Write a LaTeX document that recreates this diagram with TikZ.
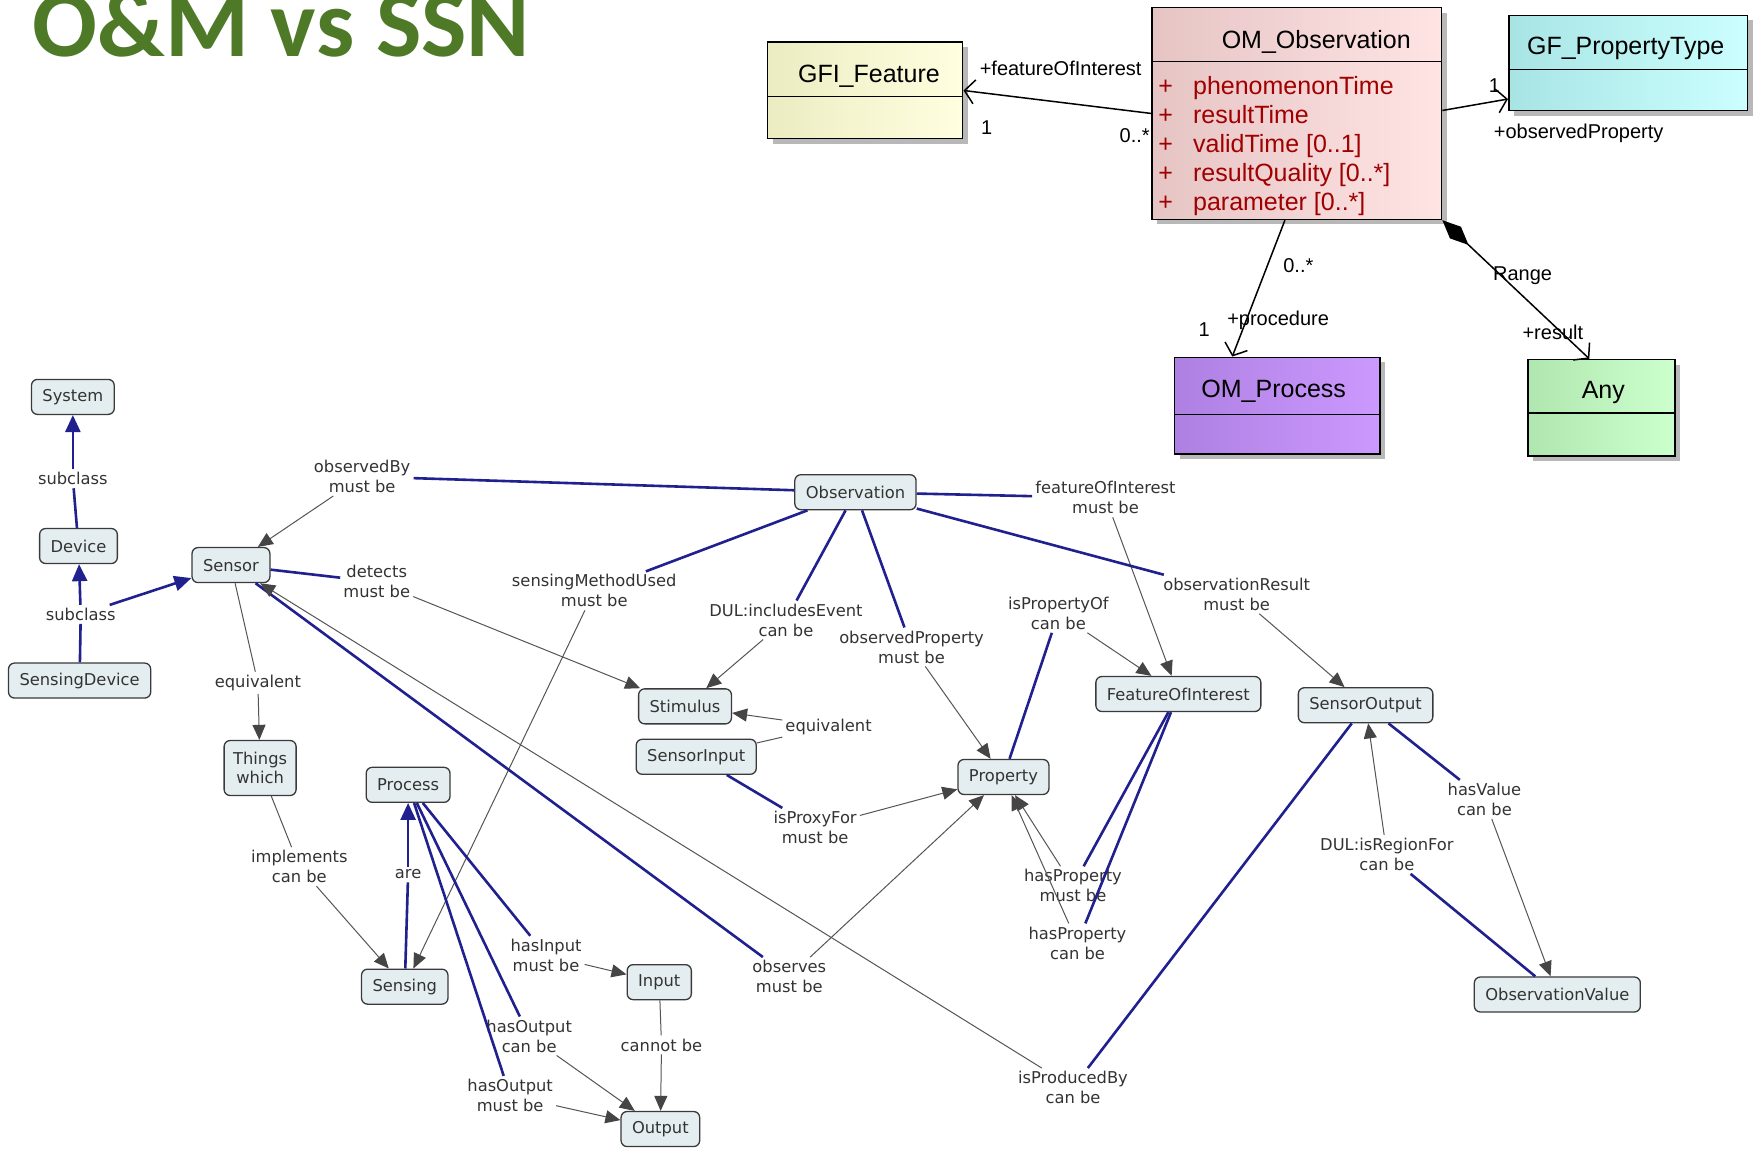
\documentclass[tikz,border=0pt]{standalone}
\usepackage{fontspec}
\usetikzlibrary{arrows.meta,shadows}
\newfontfamily\cmapfont{DejaVu Sans}
\newfontfamily\umlfont{Liberation Sans}
\newfontfamily\titlefont{Carlito}
\definecolor{linkblue}{HTML}{20208F}
\definecolor{linkgray}{HTML}{555555}
\definecolor{arrowgray}{HTML}{454545}
\definecolor{cfill}{HTML}{E4EEF1}
\definecolor{cborder}{HTML}{3A3A3A}
\definecolor{ctext}{HTML}{333333}
\definecolor{attrred}{HTML}{A00000}
\definecolor{titlegreen}{HTML}{4E7A28}
\definecolor{gfiL}{HTML}{ECECC2}
\definecolor{gfiR}{HTML}{FFFFE0}
\definecolor{obsL}{HTML}{E6C4C4}
\definecolor{obsR}{HTML}{FFE4E4}
\definecolor{gptL}{HTML}{A8E4E4}
\definecolor{gptR}{HTML}{CCFFFF}
\definecolor{procL}{HTML}{AE80E2}
\definecolor{procR}{HTML}{CC99FF}
\definecolor{anyL}{HTML}{B0E6B0}
\definecolor{anyR}{HTML}{CCFFCC}
\begin{document}
\begin{tikzpicture}[x=1.1212pt,y=-1.1212pt,
  cnode/.style={draw=cborder, fill=cfill, rounded corners=6pt, line width=1.3pt, text=ctext,
    font=\cmapfont\fontsize{16.3}{19}\selectfont, inner xsep=11pt, minimum height=35pt, align=center},
  lbl/.style={text=ctext, font=\cmapfont\fontsize{16.3}{20}\selectfont, align=center, inner sep=3pt},
  bline/.style={draw=linkblue, line width=2.6pt},
  barrow/.style={bline, -{Triangle[length=17pt,width=15pt]}},
  gplain/.style={draw=linkgray, line width=1pt},
  gline/.style={gplain, -{Triangle[length=15pt,width=13pt,color=arrowgray]}},
  uml/.style={draw=black, line width=1.6pt, drop shadow={shadow xshift=5pt, shadow yshift=-5pt, fill=black!28, opacity=1}},
  umltxt/.style={font=\umlfont\fontsize{25}{30}\selectfont, inner sep=0pt},
  attr/.style={font=\umlfont\fontsize{25}{30}\selectfont, inner sep=0pt, text=attrred, anchor=base west},
  umllbl/.style={font=\umlfont\fontsize{20}{24}\selectfont, inner sep=1pt},
  umlline/.style={line width=1.5pt, -{Straight Barb[length=10pt,width=24pt,line width=1.5pt]}},
  divider/.style={line width=1.5pt}
]
\useasboundingbox (0,0) rectangle (1568,1025);
\fill[white] (0,0) rectangle (1568,1025);

% title
\node[font=\titlefont\bfseries\fontsize{96}{100}\selectfont, text=titlegreen, anchor=base west, inner sep=0pt] (title) at (29,50) {O\&M vs SSN};

% ---------- UML ----------
\node[uml, left color=gfiL, right color=gfiR, minimum width=195pt, minimum height=96.4pt, anchor=north west] (gfi) at (684,37) {};
\draw[divider] ([yshift=-55pt]gfi.north west) -- ([yshift=-55pt]gfi.north east);
\node[umltxt] (gfiname) at (775,68) {GFI\_Feature};

\node[uml, left color=obsL, right color=obsR, minimum width=289.3pt, minimum height=211.9pt, anchor=north west] (omobs) at (1027,6) {};
\draw[divider] ([yshift=-55pt]omobs.north west) -- ([yshift=-55pt]omobs.north east);
\node[umltxt] (omobsname) at (1174,37) {OM\_Observation};
\node[attr] (p1) at (1033,84) {+};
\node[attr] (p2) at (1033,110) {+};
\node[attr] (p3) at (1033,136) {+};
\node[attr] (p4) at (1033,162) {+};
\node[attr] (p5) at (1033,188) {+};
\node[attr] (a1) at (1064,84) {phenomenonTime};
\node[attr] (a2) at (1064,110) {resultTime};
\node[attr] (a3) at (1064,136) {validTime [0..1]};
\node[attr] (a4) at (1064,162) {resultQuality [0..*]};
\node[attr] (a5) at (1064,188) {parameter [0..*]};

\node[uml, left color=gptL, right color=gptR, minimum width=238.8pt, minimum height=95.3pt, anchor=north west] (gfpt) at (1345,13) {};
\draw[divider] ([yshift=-55pt]gfpt.north west) -- ([yshift=-55pt]gfpt.north east);
\node[umltxt] (gfptname) at (1450,43) {GF\_PropertyType};

\node[uml, left color=procL, right color=procR, minimum width=205.2pt, minimum height=96.4pt, anchor=north west] (omproc) at (1047,318) {};
\draw[divider] ([yshift=-58pt]omproc.north west) -- ([yshift=-58pt]omproc.north east);
\node[umltxt] (omprocname) at (1136,349) {OM\_Process};

\node[uml, left color=anyL, right color=anyR, minimum width=146.9pt, minimum height=96.4pt, anchor=north west] (any) at (1362,320) {};
\draw[divider] ([yshift=-54pt]any.north west) -- ([yshift=-54pt]any.north east);
\node[umltxt] (anyname) at (1430,350) {Any};

\draw[umlline] (omobs.west) -- (gfi.east);
\draw[umlline] ([yshift=3pt]omobs.east) -- ([yshift=-36pt]gfpt.west);
\draw[umlline] ([xshift=-12pt]omobs.south) -- ([xshift=-45pt]omproc.north);
\draw[line width=1.5pt, {Diamond[length=36pt,width=16pt]}-{Straight Barb[length=10pt,width=24pt,line width=1.5pt]}] (omobs.south east) -- ([xshift=-12pt]any.north);

\node[umllbl] (lfoi) at (946,61) {+featureOfInterest};
\node[umllbl] (lgfi1) at (880,114) {1};
\node[umllbl] (lobs0) at (1012,121) {0..*};
\node[umllbl] (lpt1) at (1333,76) {1};
\node[umllbl] (lop) at (1408,119) {+observedProperty};
\node[umllbl] (lproc0) at (1158,237) {0..*};
\node[umllbl] (lproc1) at (1074,294) {1};
\node[umllbl] (lproc) at (1140,286) {+procedure};
\node[umllbl] (lrange) at (1358,246) {Range};
\node[umllbl] (lres) at (1385,296) {+result};

% ---------- concept map ----------
\node[cnode] (system) at (65,354) {System};
\node[cnode] (device) at (70,487) {Device};
\node[cnode] (sensdev) at (71,607) {SensingDevice};
\node[cnode] (sensor) at (206,504) {Sensor};
\node[cnode] (obs) at (763,439) {Observation};
\node[cnode] (stim) at (611,630) {Stimulus};
\node[cnode] (sinput) at (621,675) {SensorInput};
\node[cnode] (prop) at (895,693) {Property};
\node[cnode] (foi) at (1051,619) {FeatureOfInterest};
\node[cnode] (sout) at (1218,629) {SensorOutput};
\node[cnode] (obsval) at (1389,887) {ObservationValue};
\node[cnode, minimum height=55pt, inner xsep=9pt] (things) at (232,685) {Things\\which};
\node[cnode] (process) at (364,700) {Process};
\node[cnode] (sensing) at (361,880) {Sensing};
\node[cnode] (input) at (588,876) {Input};
\node[cnode] (output) at (589,1007) {Output};

\node[lbl] (lsubA) at (65,427) {subclass};
\node[lbl] (lsubB) at (72,548) {subclass};
\node[lbl] (lobsby) at (323,425) {observedBy\\must be};
\node[lbl] (ldetects) at (336,519) {detects\\must be};
\node[lbl] (lequivA) at (230,609) {equivalent};
\node[lbl] (lsmu) at (530,527) {sensingMethodUsed\\must be};
\node[lbl] (lincl) at (701,553) {DUL:includesEvent\\can be};
\node[lbl] (lobsprop) at (813,577) {observedProperty\\must be};
\node[lbl] (lfoim) at (986,444) {featureOfInterest\\must be};
\node[lbl] (lobsres) at (1103,530) {observationResult\\must be};
\node[lbl] (lispropof) at (944,547) {isPropertyOf\\can be};
\node[lbl] (lequivB) at (739,648) {equivalent};
\node[lbl] (lproxy) at (727,738) {isProxyFor\\must be};
\node[lbl] (limpl) at (267,773) {implements\\can be};
\node[lbl] (lare) at (364,780) {are};
\node[lbl] (lhasin) at (487,852) {hasInput\\must be};
\node[lbl] (lhasoutcan) at (472,924) {hasOutput\\can be};
\node[lbl] (lhasoutmust) at (455,977) {hasOutput\\must be};
\node[lbl] (lcannot) at (590,932) {cannot be};
\node[lbl] (lobserves) at (704,871) {observes\\must be};
\node[lbl] (lhpmust) at (957,790) {hasProperty\\must be};
\node[lbl] (lhpcan) at (961,841) {hasProperty\\can be};
\node[lbl] (lprodby) at (957,970) {isProducedBy\\can be};
\node[lbl] (lhasval) at (1324,713) {hasValue\\can be};
\node[lbl] (lregion) at (1237,762) {DUL:isRegionFor\\can be};

\draw[bline] (device) -- (lsubA);
\draw[barrow] (lsubA) -- (system);
\draw[bline] (sensdev) -- (lsubB);
\draw[barrow] (lsubB) -- (device);
\draw[barrow] (lsubB) -- (sensor);
\draw[bline] (obs) -- (lobsby);
\draw[gline] (lobsby) -- (sensor);
\draw[bline] (sensor) -- (ldetects);
\draw[gline] (ldetects) -- (stim);
\draw[gplain] (sensor) -- (lequivA);
\draw[gline] (lequivA) -- (things);
\draw[bline] (obs) -- (lsmu);
\draw[gline] (lsmu) -- (sensing);
\draw[bline] (obs) -- (lincl);
\draw[gline] (lincl) -- (stim);
\draw[bline] (obs) -- (lobsprop);
\draw[gline] (lobsprop) -- (prop);
\draw[bline] (obs) -- (lfoim);
\draw[gline] (lfoim) -- (foi);
\draw[bline] (obs) -- (lobsres);
\draw[gline] (lobsres) -- (sout);
\draw[bline] (prop) -- (lispropof);
\draw[gline] (lispropof) -- (foi);
\draw[gplain] (sinput) -- (lequivB);
\draw[gline] (lequivB) -- (stim);
\draw[bline] (sinput) -- (lproxy);
\draw[gline] (lproxy) -- (prop);
\draw[gplain] (things) -- (limpl);
\draw[gline] (limpl) -- (sensing);
\draw[bline] (sensing) -- (lare);
\draw[barrow] (lare) -- (process);
\draw[bline] (process) -- (lhasin);
\draw[gline] (lhasin) -- (input);
\draw[bline] (process) -- (lhasoutcan);
\draw[gline] (lhasoutcan) -- (output);
\draw[bline] (process) -- (lhasoutmust);
\draw[gline] (lhasoutmust) -- (output);
\draw[gplain] (input) -- (lcannot);
\draw[gline] (lcannot) -- (output);
\draw[bline] (sensor) -- (lobserves);
\draw[gline] (lobserves) -- (prop);
\draw[bline] (foi) -- (lhpmust);
\draw[gline] (lhpmust) -- (prop);
\draw[bline] (foi) -- (lhpcan);
\draw[gline] (lhpcan) -- (prop);
\draw[bline] (sout) -- (lprodby);
\draw[gline] (lprodby) -- (sensor);
\draw[bline] (sout) -- (lhasval);
\draw[gline] (lhasval) -- (obsval);
\draw[bline] (obsval) -- (lregion);
\draw[gline] (lregion) -- (sout);
\end{tikzpicture}
\end{document}
